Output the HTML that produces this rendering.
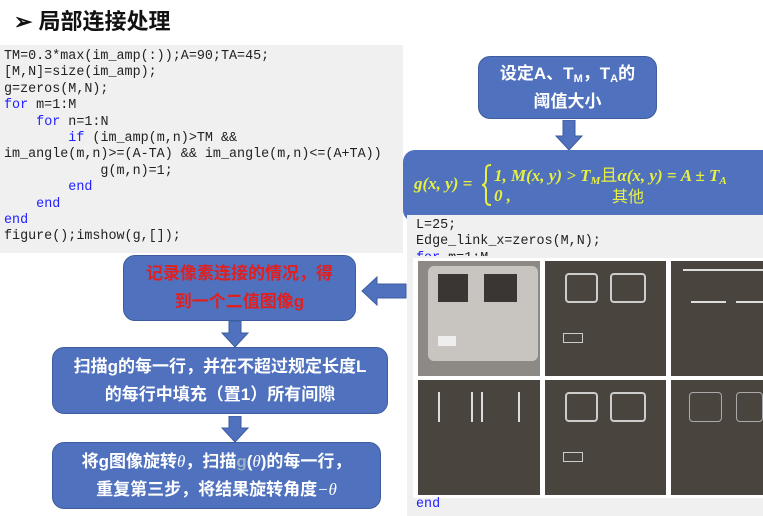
<!DOCTYPE html>
<html><head><meta charset="utf-8"><style>
*{margin:0;padding:0;box-sizing:border-box}
body{width:763px;height:516px;background:#fff;position:relative;overflow:hidden;font-family:"Liberation Sans","Noto Sans CJK SC",sans-serif}
sub{line-height:0;vertical-align:-0.25em}
.abs{position:absolute}
.code{font-family:"Liberation Mono",monospace;font-size:13.4px;line-height:16.4px;color:#222;white-space:pre}
.kw{color:#2020ff}
.box{position:absolute;background:#4f71be;border:1px solid #3e5d9e;border-radius:12px;color:#fff;font-weight:bold;font-size:17px;text-align:center;display:flex;align-items:center;justify-content:center;line-height:28px}
.img{position:absolute;background:#4a443e;overflow:hidden}
.f{position:absolute;white-space:nowrap}
</style></head><body>
<div class="abs" style="left:14px;top:4px;font-size:22px;font-weight:bold;color:#111">➢ 局部连接处理</div>

<div class="abs code" style="left:0;top:45px;width:403px;height:208px;background:#f0f0f0;padding:4px 0 0 4px">TM=0.3*max(im_amp(:));A=90;TA=45;
[M,N]=size(im_amp);
g=zeros(M,N);
<span class="kw">for</span> m=1:M
    <span class="kw">for</span> n=1:N
        <span class="kw">if</span> (im_amp(m,n)>TM &amp;&amp;
im_angle(m,n)>=(A-TA) &amp;&amp; im_angle(m,n)&lt;=(A+TA))
            g(m,n)=1;
        <span class="kw">end</span>
    <span class="kw">end</span>
<span class="kw">end</span>
figure();imshow(g,[]);</div>

<div class="box" style="left:478px;top:56px;width:179px;height:63px"><div>设定A、T<sub style="font-size:11px">M</sub>，T<sub style="font-size:11px">A</sub>的<br>阈值大小</div></div>
<svg class="abs" style="left:555px;top:120px" width="28" height="32"><polygon points="8,0 20,0 20,16 27,16 14,30 1,16 8,16" fill="#4f71be" stroke="#3e5d9e"/></svg>

<div class="abs" style="left:403px;top:150px;width:360px;height:72px;background:#4f71be;border-radius:12px 0 0 12px"></div>
<div class="abs" style="left:0;top:0;color:#e8f040;font-family:'Liberation Serif','Noto Serif CJK SC',serif;font-weight:bold;font-style:italic;font-size:17px">
<span class="f" style="left:414px;top:174px">g(x, y) =</span>
<span class="f" style="left:494px;top:161px">1, M(x, y) &gt; T<sub style="font-size:11px">M</sub><span style="font-style:normal;font-family:'Noto Sans CJK SC',sans-serif;font-weight:normal">且</span>α(x, y) = A ± T<sub style="font-size:11px">A</sub></span>
<span class="f" style="left:494px;top:186px">0 ,</span>
<span class="f" style="left:612px;top:183px;font-style:normal;font-weight:normal;font-family:'Noto Sans CJK SC',sans-serif;font-size:16px">其他</span>
</div>
<svg class="abs" style="left:480px;top:163px" width="14" height="44"><path d="M11,2 C6,2 6,4 6,10 L6,17 C6,20 4,22 2,22 C4,22 6,24 6,27 L6,34 C6,40 6,42 11,42" fill="none" stroke="#e8f040" stroke-width="2"/></svg>

<div class="abs" style="left:407px;top:215px;width:356px;height:301px;background:#f0f0f0"></div>
<div class="abs code" style="left:416px;top:218px;height:38px;overflow:hidden">L=25;
Edge_link_x=zeros(M,N);
<span class="kw">for</span> m=1:M</div>
<div class="abs" style="left:413px;top:258px;width:350px;height:240px;background:#fff"></div>
<div class="img" style="left:418px;top:261px;width:122px;height:115px;background:#8d8a85">
<div class="abs" style="left:10px;top:5px;width:110px;height:95px;background:#c8c5c0;border-radius:6px"></div>
<div class="abs" style="left:20px;top:13px;width:30px;height:28px;background:#3a3634"></div>
<div class="abs" style="left:66px;top:13px;width:33px;height:28px;background:#3a3634"></div>
<div class="abs" style="left:20px;top:75px;width:18px;height:10px;background:#eee"></div>
</div>
<div class="img" style="left:545px;top:261px;width:121px;height:115px">
<div class="abs" style="left:20px;top:12px;width:33px;height:30px;border:2px solid #ccc;border-radius:4px"></div>
<div class="abs" style="left:65px;top:12px;width:36px;height:30px;border:2px solid #ccc;border-radius:4px"></div>
<div class="abs" style="left:18px;top:72px;width:20px;height:10px;border:1px solid #ccc"></div>
</div>
<div class="img" style="left:671px;top:261px;width:92px;height:115px">
<div class="abs" style="left:12px;top:8px;width:80px;height:2px;background:#ddd"></div>
<div class="abs" style="left:20px;top:40px;width:35px;height:2px;background:#ddd"></div>
<div class="abs" style="left:65px;top:40px;width:27px;height:2px;background:#ddd"></div>
</div>
<div class="img" style="left:418px;top:380px;width:122px;height:115px">
<div class="abs" style="left:20px;top:12px;width:2px;height:30px;background:#ddd"></div>
<div class="abs" style="left:53px;top:12px;width:2px;height:30px;background:#ddd"></div>
<div class="abs" style="left:63px;top:12px;width:2px;height:30px;background:#ddd"></div>
<div class="abs" style="left:100px;top:12px;width:2px;height:30px;background:#ddd"></div>
</div>
<div class="img" style="left:545px;top:380px;width:121px;height:115px">
<div class="abs" style="left:20px;top:12px;width:33px;height:30px;border:2px solid #ccc;border-radius:4px"></div>
<div class="abs" style="left:65px;top:12px;width:36px;height:30px;border:2px solid #ccc;border-radius:4px"></div>
<div class="abs" style="left:18px;top:72px;width:20px;height:10px;border:1px solid #ccc"></div>
</div>
<div class="img" style="left:671px;top:380px;width:92px;height:115px">
<div class="abs" style="left:18px;top:12px;width:33px;height:30px;border:1px solid #aaa;border-radius:4px"></div>
<div class="abs" style="left:65px;top:12px;width:27px;height:30px;border:1px solid #aaa;border-radius:4px"></div>
</div>
<div class="abs code" style="left:416px;top:497px"><span class="kw">end</span></div>

<div class="box" style="left:123px;top:255px;width:233px;height:66px;color:#e02020"><div>记录像素连接的情况，得<br>到一个二值图像g</div></div>
<svg class="abs" style="left:361px;top:276px" width="46" height="30"><polygon points="45,8 16,8 16,1 1,15 16,29 16,22 45,22" fill="#4f71be" stroke="#3e5d9e"/></svg>
<svg class="abs" style="left:221px;top:321px" width="28" height="27"><polygon points="8,0 20,0 20,12 27,12 14,26 1,12 8,12" fill="#4f71be" stroke="#3e5d9e"/></svg>
<div class="box" style="left:52px;top:347px;width:336px;height:67px"><div>扫描g的每一行，并在不超过规定长度L<br>的每行中填充（置1）所有间隙</div></div>
<svg class="abs" style="left:221px;top:416px" width="28" height="27"><polygon points="8,0 20,0 20,12 27,12 14,26 1,12 8,12" fill="#4f71be" stroke="#3e5d9e"/></svg>
<div class="box" style="left:52px;top:442px;width:329px;height:67px"><div>将g图像旋转<i style="font-family:'Liberation Serif',serif;font-weight:normal">θ</i>，扫描<span style="color:#9ab0c8">g</span>(<i style="font-family:'Liberation Serif',serif;font-weight:normal">θ</i>)的每一行，<br>重复第三步，将结果旋转角度<span style="font-family:'Liberation Serif',serif;font-weight:normal;font-style:italic">−θ</span></div></div>
</body></html>
